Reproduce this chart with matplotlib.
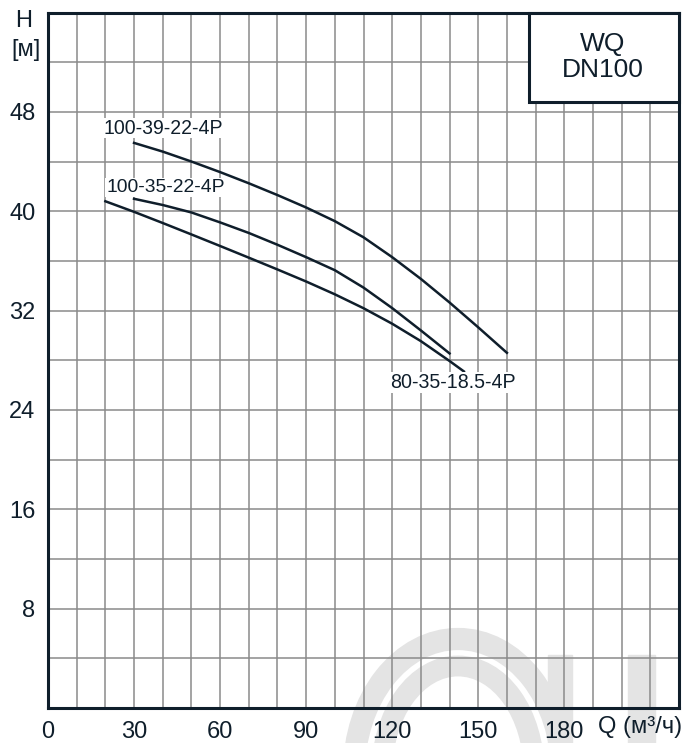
import matplotlib
matplotlib.use('Agg')
import matplotlib.pyplot as plt
from matplotlib.patches import Arc, Rectangle
import numpy as np

plt.rcParams['font.family'] = ['Liberation Sans', 'DejaVu Sans']

# curve data (Q in m3/h, H in m)
q_39 = [30, 40, 50, 60, 70, 80, 90, 100, 110, 120, 130, 140, 150, 160]
h_39 = [45.5, 44.8, 44.0, 43.15, 42.25, 41.3, 40.3, 39.2, 37.9, 36.3, 34.55, 32.65, 30.65, 28.6]
q_35 = [30, 40, 50, 60, 70, 80, 90, 100, 110, 120, 130, 140]
h_35 = [41.0, 40.5, 39.9, 39.1, 38.25, 37.3, 36.3, 35.25, 33.85, 32.2, 30.4, 28.55]
q_80 = [20, 30, 40, 50, 60, 70, 80, 90, 100, 110, 120, 130, 140, 145]
h_80 = [40.8, 39.95, 39.05, 38.13, 37.2, 36.26, 35.31, 34.34, 33.31, 32.19, 30.94, 29.54, 27.94, 27.1]

labels = ['100-39-22-4P', '100-35-22-4P', '80-35-18.5-4P']
label_pos = [(19.3, 46.7), (20.3, 41.9), (119.3, 26.2)]
label_width_px = [119, 117, 125]

xticks = [0, 30, 60, 90, 120, 150, 180]
yticks = [8, 16, 24, 32, 40, 48]

dark = '#0f1e2b'
grey = '#8a8a8a'

fig = plt.figure(figsize=(6.94, 7.43), dpi=100)
ax = fig.add_axes([48/694, 1-708/743, (679-48)/694, (708-12.5)/743])
ax.patch.set_alpha(0)

# faint watermark behind the plot
wm = '#e4e4e4'
for rx, ry, lw in [(104, 133, 16), (76, 106, 15)]:
    fig.patches.append(Arc((458/694, 1-772/743), 2*rx/694, 2*ry/743, theta1=0, theta2=180,
                           transform=fig.transFigure, color=wm, linewidth=lw, zorder=-5))
for x0, x1 in [(548, 572), (628, 655)]:
    fig.patches.append(Rectangle((x0/694, 0), (x1-x0)/694, (743-655)/743,
                                 transform=fig.transFigure, color=wm, zorder=-5))

ax.set_xlim(0, 220)
ax.set_ylim(0, 56)
ax.set_xticks(np.arange(0, 221, 10), minor=True)
ax.set_yticks(np.arange(0, 57, 4), minor=True)
ax.set_xticks(xticks)
ax.set_yticks(yticks)
ax.grid(which='both', color=grey, linewidth=1.1)
ax.set_xticklabels([str(v) for v in xticks])
ax.set_yticklabels([str(v) for v in yticks])
ax.tick_params(which='both', length=0, labelsize=17, colors=dark)
ax.tick_params(axis='y', pad=9)
ax.tick_params(axis='x', pad=9)
for s in ax.spines.values():
    s.set_color(dark)
    s.set_linewidth(2.2)

for q, h in [(q_39, h_39), (q_35, h_35), (q_80, h_80)]:
    ax.plot(q, h, color=dark, linewidth=1.8, zorder=3)

renderer = fig.canvas.get_renderer()
for txt, (x, y), wpx in zip(labels, label_pos, label_width_px):
    t = ax.text(x, y, txt, fontsize=13, color=dark, ha='left', va='center', zorder=4,
                bbox=dict(facecolor='white', edgecolor='none', pad=0.5))
    w = t.get_window_extent(renderer).width
    t.set_fontsize(13 * wpx / w)

# title box
ax.add_patch(Rectangle((167.7, 48.8), 52.3, 7.2, facecolor='white', edgecolor=dark,
                       linewidth=2.2, zorder=5, clip_on=False))
ax.text(193.5, 52.4, 'WQ\nDN100', fontsize=19, color=dark, ha='center', va='center',
        linespacing=1.1, zorder=6)

fig.text(24/694, 1-21/743, 'H', fontsize=17, color=dark, ha='center', va='center')
fig.text(26/694, 1-50/743, '[м]', fontsize=17, color=dark, ha='center', va='center')
fig.text(598/694, 1-727/743, 'Q (м³/ч)', fontsize=17, color=dark, ha='left', va='center')

fig.savefig('out.png', dpi=100)
